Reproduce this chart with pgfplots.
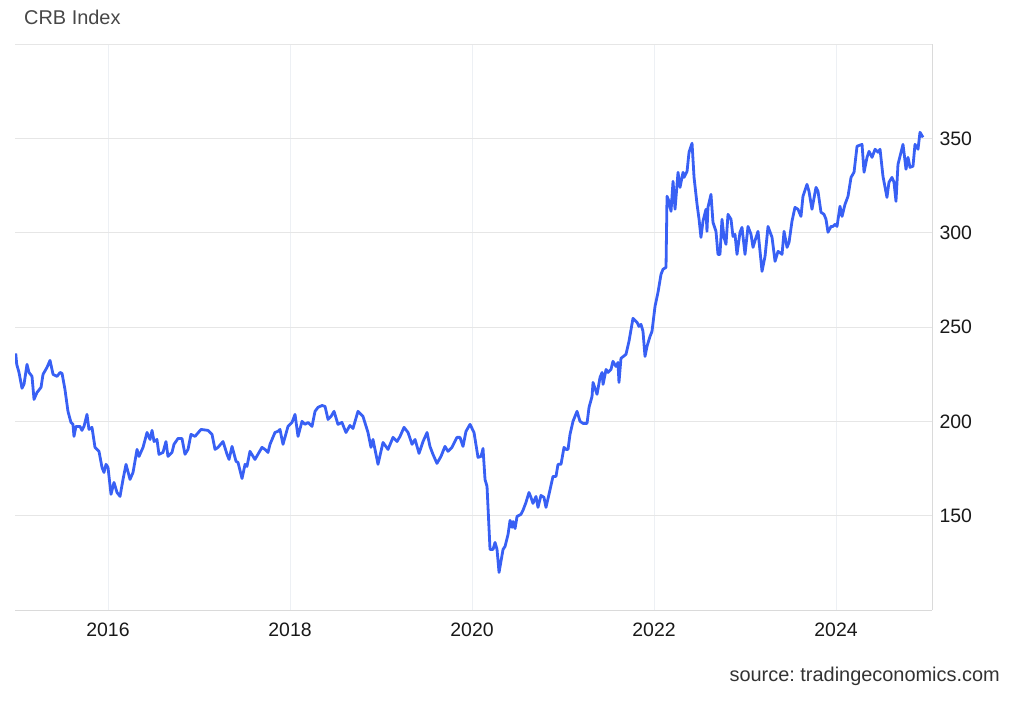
\documentclass[border=0pt]{standalone}
\usepackage{pgfplots}
\pgfplotsset{compat=1.18}
\usepackage{fontspec}
\setmainfont{Liberation Sans}
\frenchspacing
\definecolor{crbline}{HTML}{3860F4}
\definecolor{hgrid}{HTML}{E6E6E6}
\definecolor{vgrid}{HTML}{EDF0F4}
\definecolor{axgrey}{HTML}{DADADA}
\begin{document}
\begin{tikzpicture}[x=1bp,y=1bp]
\useasboundingbox (0,0) rectangle (1020,706);
\node[anchor=west, inner sep=0pt, text=black!72, font=\fontsize{20}{24}\selectfont] at (24,689) {CRB Index};
\node[anchor=east, inner sep=0pt, text=black!80, font=\fontsize{20}{24}\selectfont] at (1000,30) {source: tradingeconomics.com};
\begin{axis}[
    at={(15bp,96bp)}, anchor=south west,
    scale only axis, width=917bp, height=566bp,
    xmin=2014.978, xmax=2025.055,
    ymin=100, ymax=400,
    xtick={2016,2018,2020,2022,2024},
    ytick={150,200,250,300,350},
    extra y ticks={400}, extra y tick labels={},
    xmajorgrids, ymajorgrids,
    x grid style={vgrid, line width=0.8bp},
    y grid style={hgrid, line width=0.8bp},
    axis x line*=bottom, axis y line*=right,
    axis line style={axgrey, line width=0.8bp, -},
    major tick length=0pt,
    yticklabel pos=right,
    tick label style={font=\fontsize{19.5}{23}\selectfont, text=black!90},
    xticklabel style={yshift=-9bp},
    yticklabel style={xshift=4bp},
    /pgf/number format/1000 sep={},
    /pgf/number format/assume math mode=true,
]
\addplot[crbline, line width=2.8bp, line join=round] table {
2014.986 236.0
2014.997 230.2
2015.022 225.9
2015.055 217.5
2015.077 219.6
2015.110 230.2
2015.132 225.9
2015.165 223.8
2015.187 211.6
2015.220 215.3
2015.264 218.0
2015.286 224.9
2015.330 228.6
2015.363 232.3
2015.396 224.9
2015.440 223.8
2015.473 225.9
2015.495 225.4
2015.527 216.9
2015.560 205.3
2015.593 199.4
2015.615 198.4
2015.626 192.0
2015.648 197.3
2015.692 197.3
2015.714 195.2
2015.736 197.3
2015.769 203.7
2015.791 195.7
2015.824 196.8
2015.857 186.2
2015.901 184.1
2015.934 175.6
2015.956 172.9
2015.978 177.2
2016.000 175.6
2016.033 161.3
2016.066 167.6
2016.099 162.3
2016.132 160.2
2016.165 169.2
2016.198 177.2
2016.242 169.2
2016.275 172.9
2016.319 185.1
2016.341 181.4
2016.385 186.2
2016.429 194.1
2016.462 190.4
2016.484 195.2
2016.506 189.3
2016.538 190.4
2016.560 182.5
2016.604 183.5
2016.637 189.3
2016.659 181.4
2016.703 183.5
2016.725 187.8
2016.769 190.9
2016.813 190.9
2016.846 182.5
2016.879 185.1
2016.912 193.1
2016.956 192.0
2017.022 195.7
2017.099 195.2
2017.143 193.1
2017.176 185.1
2017.209 186.2
2017.264 189.3
2017.308 182.5
2017.330 179.8
2017.363 186.7
2017.407 178.8
2017.429 178.2
2017.473 169.7
2017.506 177.2
2017.527 176.1
2017.560 184.1
2017.615 179.8
2017.692 186.2
2017.725 185.1
2017.758 183.5
2017.780 187.8
2017.835 194.1
2017.868 194.7
2017.890 195.7
2017.923 187.8
2017.978 197.3
2018.022 199.4
2018.055 203.7
2018.088 192.0
2018.132 200.0
2018.165 198.4
2018.198 199.4
2018.242 197.3
2018.275 205.3
2018.308 207.4
2018.352 208.4
2018.385 207.9
2018.418 201.0
2018.451 202.6
2018.484 205.3
2018.527 198.4
2018.571 199.4
2018.615 194.1
2018.659 197.8
2018.692 196.2
2018.747 205.3
2018.802 202.6
2018.857 194.1
2018.890 186.2
2018.912 190.4
2018.967 177.2
2019.022 188.8
2019.077 185.1
2019.132 191.5
2019.176 189.3
2019.209 192.0
2019.253 196.8
2019.297 194.1
2019.341 187.8
2019.374 190.4
2019.418 183.0
2019.462 189.3
2019.506 194.1
2019.538 186.7
2019.571 182.5
2019.615 177.7
2019.659 181.4
2019.703 186.7
2019.736 184.1
2019.780 186.2
2019.835 191.5
2019.868 191.5
2019.901 186.7
2019.934 194.7
2019.978 198.4
2020.022 194.1
2020.066 180.9
2020.099 181.4
2020.121 185.6
2020.143 169.2
2020.165 165.5
2020.198 132.1
2020.231 132.1
2020.253 135.8
2020.275 132.1
2020.297 119.9
2020.341 132.1
2020.363 133.7
2020.396 140.0
2020.418 147.5
2020.440 143.8
2020.451 146.9
2020.473 143.2
2020.495 149.6
2020.538 150.7
2020.560 152.8
2020.593 157.0
2020.626 162.3
2020.648 159.7
2020.670 156.5
2020.703 160.2
2020.725 154.4
2020.758 160.7
2020.791 159.7
2020.813 154.4
2020.846 161.3
2020.890 170.8
2020.923 170.8
2020.945 177.2
2020.978 177.2
2021.011 186.2
2021.033 185.1
2021.055 185.1
2021.077 193.1
2021.110 200.0
2021.154 205.3
2021.187 200.0
2021.220 198.9
2021.264 198.9
2021.286 207.4
2021.319 213.2
2021.330 220.6
2021.374 214.3
2021.407 223.3
2021.429 225.9
2021.440 219.6
2021.473 227.5
2021.495 225.9
2021.527 227.5
2021.549 231.8
2021.582 229.1
2021.604 231.2
2021.615 220.6
2021.637 233.4
2021.692 235.5
2021.725 242.4
2021.769 254.6
2021.813 252.5
2021.835 250.3
2021.857 251.4
2021.879 247.7
2021.901 234.4
2021.923 239.7
2021.956 245.0
2021.978 247.7
2022.011 260.9
2022.044 268.4
2022.077 277.9
2022.099 280.6
2022.132 281.6
2022.143 319.3
2022.165 316.6
2022.187 311.3
2022.209 327.2
2022.231 312.4
2022.264 332.0
2022.286 324.0
2022.319 332.0
2022.330 329.3
2022.363 332.5
2022.385 342.6
2022.418 347.4
2022.440 329.3
2022.473 315.0
2022.495 307.1
2022.516 297.5
2022.538 306.0
2022.571 312.4
2022.582 300.7
2022.593 313.4
2022.626 320.3
2022.648 305.5
2022.681 300.7
2022.703 288.5
2022.725 288.5
2022.747 307.1
2022.769 297.5
2022.791 293.8
2022.813 309.7
2022.846 307.1
2022.868 298.0
2022.890 299.1
2022.912 288.5
2022.945 300.2
2022.967 302.8
2023.000 288.5
2023.033 303.3
2023.066 299.1
2023.088 292.2
2023.121 297.5
2023.143 300.7
2023.187 279.5
2023.220 287.4
2023.253 303.3
2023.297 297.5
2023.330 284.8
2023.363 290.1
2023.407 288.5
2023.429 300.7
2023.462 292.2
2023.484 294.9
2023.516 306.0
2023.549 313.4
2023.582 312.4
2023.615 308.6
2023.637 319.3
2023.681 325.6
2023.703 321.9
2023.736 312.4
2023.780 324.0
2023.802 321.9
2023.835 310.8
2023.868 309.7
2023.890 307.1
2023.912 300.2
2023.945 303.3
2023.967 303.3
2023.989 304.4
2024.011 303.3
2024.044 314.0
2024.066 308.6
2024.099 315.0
2024.132 319.3
2024.165 329.3
2024.198 332.0
2024.231 345.8
2024.286 346.8
2024.308 332.0
2024.341 339.9
2024.363 343.1
2024.396 339.9
2024.429 344.2
2024.462 342.6
2024.484 344.2
2024.516 329.9
2024.560 318.7
2024.582 326.7
2024.615 329.3
2024.637 326.7
2024.659 316.6
2024.681 336.2
2024.736 346.8
2024.747 342.6
2024.769 333.6
2024.791 339.9
2024.813 334.6
2024.846 335.2
2024.868 346.8
2024.901 344.2
2024.923 353.2
2024.956 350.5
};
\end{axis}
\end{tikzpicture}
\end{document}
